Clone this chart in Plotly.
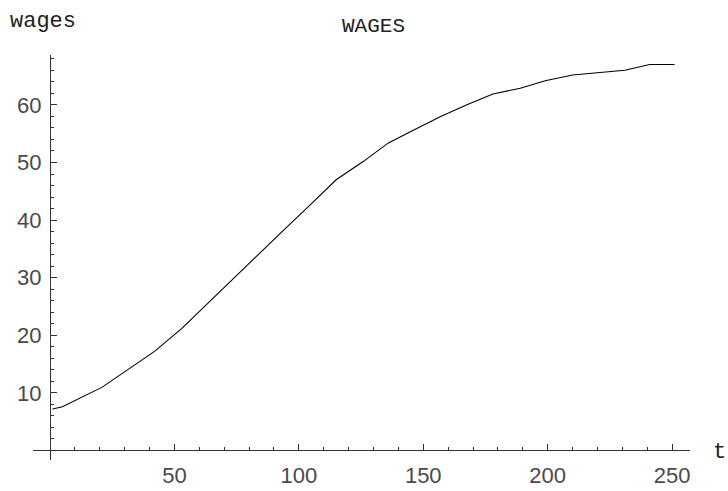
import plotly.graph_objects as go

# data
t_vals = [1, 5, 21, 42, 53, 63, 73, 84, 94, 105, 115, 126, 136, 147, 157, 168,
          178, 189, 199, 210, 220, 231, 241, 251]
wages = [7.2, 7.6, 11.0, 17.2, 21.2, 25.4, 29.5, 34.1, 38.3, 42.8, 47.0, 50.2,
         53.4, 55.8, 58.0, 60.1, 61.9, 62.9, 64.2, 65.2, 65.6, 66.0, 67.0, 67.0]
x_ticks = [50, 100, 150, 200, 250]
y_ticks = [10, 20, 30, 40, 50, 60]

W, H = 728, 491
ml, mr, mt, mb = 33, 38, 55, 31
xr = [-6.83, 257.2]
yr = [-1.65, 68.66]

mono = "Liberation Mono"
tickfont = dict(family="Liberation Sans", size=22, color="#4a4a4a")
axcol = "#333333"

fig = go.Figure()
fig.add_trace(go.Scatter(x=t_vals, y=wages, mode="lines",
                         line=dict(color="black", width=1.1),
                         showlegend=False, hoverinfo="skip"))

xpos = (0 - yr[0]) / (yr[1] - yr[0])
ypos = (0 - xr[0]) / (xr[1] - xr[0])

fig.update_layout(
    width=W, height=H,
    margin=dict(l=ml, r=mr, t=mt, b=mb, autoexpand=False),
    paper_bgcolor="white", plot_bgcolor="white",
    xaxis=dict(range=xr, anchor="free", position=xpos, showgrid=False,
               zeroline=False, showline=True, linecolor=axcol, linewidth=1,
               tickmode="array", tickvals=x_ticks, ticks="inside",
               ticklen=6, tickwidth=1, tickcolor=axcol, tickfont=tickfont,
               ticklabelstandoff=5,
               minor=dict(tickmode="linear", tick0=0, dtick=10, ticks="inside",
                          ticklen=3.5, tickwidth=1, tickcolor=axcol)),
    yaxis=dict(range=yr, anchor="free", position=ypos, showgrid=False,
               zeroline=False, showline=True, linecolor=axcol, linewidth=1,
               tickmode="array", tickvals=y_ticks, ticks="inside",
               ticklen=6, tickwidth=1, tickcolor=axcol, tickfont=tickfont,
               ticklabelstandoff=4,
               minor=dict(tickmode="linear", tick0=0, dtick=2, ticks="inside",
                          ticklen=3.5, tickwidth=1, tickcolor=axcol)),
    annotations=[
        dict(text="wages", xref="paper", yref="paper",
             x=(8 - ml) / (W - ml - mr), y=1 + (mt - 21) / (H - mt - mb),
             xanchor="left", yanchor="middle", showarrow=False,
             font=dict(family=mono, size=22, color="#222222")),
        dict(text="WAGES", xref="paper", yref="paper",
             x=(373 - ml) / (W - ml - mr), y=1 + (mt - 26) / (H - mt - mb),
             xanchor="center", yanchor="middle", showarrow=False,
             font=dict(family=mono, size=21, color="#222222")),
        dict(text="t", xref="paper", yref="paper",
             x=(711 - ml) / (W - ml - mr), y=1 - (452 - mt) / (H - mt - mb),
             xanchor="left", yanchor="middle", showarrow=False,
             font=dict(family=mono, size=22, color="#222222")),
    ],
)

fig.write_html("out.html")
